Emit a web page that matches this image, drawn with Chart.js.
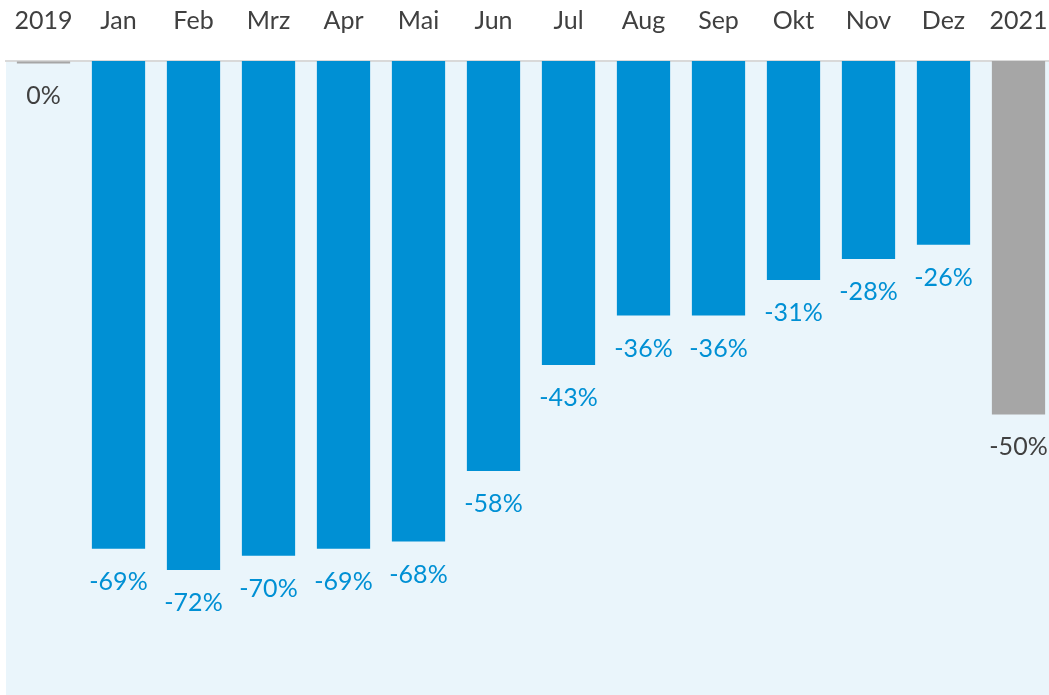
<!DOCTYPE html>
<html>
<head>
<meta charset="utf-8">
<script src="https://cdn.jsdelivr.net/npm/chart.js@4/dist/chart.umd.min.js"></script>
<style>
  html, body { margin: 0; padding: 0; background: #ffffff; overflow: hidden; width: 1049px; height: 695px; }
  #c { position: absolute; left: 0; top: 0; }
</style>
</head>
<body>
<canvas id="c" width="1056" height="695"></canvas>
<script>
const categories = ['2019', 'Jan', 'Feb', 'Mrz', 'Apr', 'Mai', 'Jun', 'Jul', 'Aug', 'Sep', 'Okt', 'Nov', 'Dez', '2021'];
const values = [0, -69, -72, -70, -69, -68, -58, -43, -36, -36, -31, -28, -26, -50];
const barColors = ['#A6A6A6', '#0090D4', '#0090D4', '#0090D4', '#0090D4', '#0090D4', '#0090D4', '#0090D4', '#0090D4', '#0090D4', '#0090D4', '#0090D4', '#0090D4', '#A6A6A6'];
const labelColors = ['#404040', '#0090D4', '#0090D4', '#0090D4', '#0090D4', '#0090D4', '#0090D4', '#0090D4', '#0090D4', '#0090D4', '#0090D4', '#0090D4', '#0090D4', '#404040'];

const FONT = 'Lato, "Open Sans", sans-serif';

const plotBg = {
  id: 'plotBg',
  beforeDraw(chart) {
    const { ctx, chartArea: a } = chart;
    ctx.save();
    ctx.fillStyle = '#EAF5FB';
    ctx.fillRect(a.left, a.top, a.right - a.left, a.bottom - a.top);
    ctx.restore();
  }
};

const valueLabels = {
  id: 'valueLabels',
  afterDatasetsDraw(chart) {
    const { ctx } = chart;
    const meta = chart.getDatasetMeta(0);
    ctx.save();
    ctx.font = '25px ' + FONT;
    ctx.textAlign = 'center';
    ctx.textBaseline = 'middle';
    meta.data.forEach((el, i) => {
      const v = values[i];
      if (v === 0) {
        ctx.strokeStyle = barColors[i];
        ctx.lineWidth = 2;
        ctx.beginPath();
        ctx.moveTo(el.x - el.width / 2, el.base + 1.5);
        ctx.lineTo(el.x + el.width / 2, el.base + 1.5);
        ctx.stroke();
      }
      ctx.fillStyle = labelColors[i];
      ctx.fillText(v + '%', el.x, el.y + (v === 0 ? 35 : 33));
    });
    ctx.restore();
  }
};

new Chart(document.getElementById('c'), {
  type: 'bar',
  data: {
    labels: categories,
    datasets: [{
      data: values,
      backgroundColor: barColors,
      borderWidth: 0,
      barPercentage: 0.71,
      categoryPercentage: 1.0
    }]
  },
  options: {
    responsive: false,
    animation: false,
    devicePixelRatio: 1,
    layout: { padding: { left: 6, right: 0, top: 0, bottom: 0 } },
    plugins: { legend: { display: false }, tooltip: { enabled: false } },
    scales: {
      x: {
        position: 'top',
        grid: { display: false, drawTicks: false, tickLength: 0 },
        border: { display: true, color: '#D9D9D9', width: 2 },
        ticks: { color: '#404040', font: { family: FONT, size: 25, lineHeight: 3.2 }, padding: 0, maxRotation: 0, autoSkip: false },
        afterFit(s) { s.height = 61; s.paddingLeft = 0; s.paddingRight = 0; }
      },
      y: {
        display: false,
        min: -89.7,
        max: 0
      }
    }
  },
  plugins: [plotBg, valueLabels]
});
</script>
</body>
</html>
